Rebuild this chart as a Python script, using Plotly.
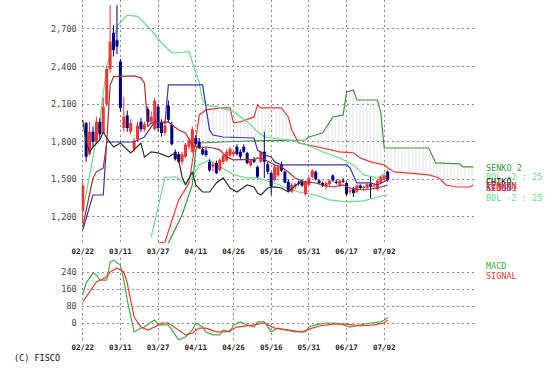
import plotly.graph_objects as go

# ---------------- data ----------------
# trading-day index 0 = 02/22 ; 89 = last session ; cloud runs 25 sessions ahead
TICK_IDX = [0, 11, 22, 33, 44, 55, 66, 77, 88]
TICK_TEXT = ["02/22", "03/11", "03/27", "04/11", "04/26", "05/16", "05/31", "06/17", "07/02"]

PRICE_TICKS = [1200, 1500, 1800, 2100, 2400, 2700]
PRICE_TICK_TEXT = ["1,200", "1,500", "1,800", "2,100", "2,400", "2,700"]
MACD_TICKS = [0, 80, 160, 240]

OPEN = [1250, 1950, 1700, 1880, 1800, 1960, 1870, 2100, 2380, 2670,
        2610, 2440, 1910, 2010, 1880, 1740, 1820, 1960, 1900, 2060,
        1960, 1900, 2080, 1950, 1870, 2090, 1935, 1720, 1700, 1640,
        1680, 1760, 1720, 1830, 1800, 1740, 1730, 1640, 1600, 1630,
        1575, 1640, 1650, 1690, 1700, 1760, 1720, 1760, 1710, 1610,
        1660, 1600, 1640, 1720, 1620, 1550, 1495, 1530, 1620, 1560,
        1480, 1400, 1440, 1470, 1480, 1380, 1455, 1520, 1560, 1490,
        1470, 1440, 1460, 1530, 1480, 1450, 1490, 1470, 1400, 1420,
        1400, 1450, 1430, 1430, 1460, 1440, 1420, 1470, 1500, 1560]
HIGH = [1480, 1960, 1960, 1920, 2000, 1990, 2150, 2400, 2890, 2730,
        2890, 2460, 2160, 2050, 1980, 1830, 1960, 1990, 1960, 2080,
        2040, 2150, 2100, 1980, 1960, 2130, 1960, 1740, 1720, 1720,
        1790, 1830, 1920, 1850, 1830, 1760, 1750, 1660, 1640, 1650,
        1670, 1700, 1740, 1760, 1730, 1780, 1740, 1780, 1720, 1660,
        1680, 1610, 1730, 1880, 1640, 1560, 1610, 1610, 1640, 1570,
        1500, 1470, 1470, 1490, 1490, 1490, 1520, 1580, 1570, 1500,
        1480, 1480, 1500, 1540, 1500, 1500, 1510, 1480, 1430, 1440,
        1460, 1460, 1450, 1470, 1520, 1470, 1500, 1530, 1540, 1570]
LOW = [1150, 1640, 1690, 1760, 1790, 1820, 1860, 2080, 2350, 2480,
       2500, 2040, 1880, 1880, 1860, 1720, 1800, 1880, 1880, 1940,
       1940, 1890, 1880, 1840, 1850, 1950, 1770, 1650, 1630, 1620,
       1670, 1740, 1710, 1770, 1740, 1690, 1680, 1560, 1560, 1540,
       1560, 1620, 1640, 1680, 1680, 1690, 1660, 1710, 1620, 1600,
       1630, 1510, 1630, 1510, 1540, 1375, 1480, 1520, 1560, 1470,
       1400, 1390, 1420, 1450, 1440, 1370, 1450, 1510, 1490, 1460,
       1440, 1420, 1450, 1480, 1460, 1440, 1470, 1370, 1380, 1360,
       1390, 1420, 1410, 1420, 1350, 1420, 1410, 1460, 1490, 1480]
CLOSE = [1450, 1680, 1880, 1800, 1960, 1860, 2080, 2380, 2600, 2530,
         2560, 2070, 2000, 1910, 1950, 1810, 1930, 1900, 1940, 1960,
         2000, 2130, 1910, 1870, 1930, 1975, 1780, 1660, 1640, 1700,
         1775, 1810, 1900, 1780, 1750, 1700, 1695, 1570, 1620, 1550,
         1655, 1690, 1720, 1745, 1720, 1700, 1680, 1720, 1630, 1650,
         1640, 1520, 1720, 1640, 1560, 1440, 1600, 1600, 1570, 1475,
         1410, 1455, 1460, 1465, 1450, 1480, 1510, 1570, 1500, 1470,
         1450, 1470, 1490, 1490, 1470, 1490, 1480, 1380, 1410, 1390,
         1450, 1430, 1440, 1460, 1440, 1450, 1490, 1520, 1530, 1495]

# indicator lines : (session index, value) vertices
BB_UP_IDX = [0, 5, 7, 10, 13, 16, 20, 23, 26, 28, 31, 32, 34, 35, 36, 39, 44, 48, 51, 53, 55, 61, 66, 70, 75, 79, 82, 86, 89]
BB_UP_VAL = [1240, 1970, 2400, 2720, 2810, 2800, 2690, 2590, 2510, 2510, 2520, 2440, 2270, 2130, 2090, 2080, 2040, 1960, 1880, 1840, 1830, 1810, 1770, 1720, 1670, 1615, 1535, 1510, 1560]
BB_LO_IDX = [20, 24, 27, 30, 32, 34, 37, 41, 44, 48, 51, 55, 59, 63, 68, 72, 77, 82, 86, 89]
BB_LO_VAL = [1040, 1515, 1520, 1470, 1510, 1615, 1655, 1590, 1535, 1511, 1511, 1479, 1439, 1399, 1375, 1336, 1320, 1328, 1359, 1375]

TENKAN_IDX = [0, 3, 4, 6, 7, 8, 9, 15, 17, 18, 19, 20, 25, 27, 28, 30, 32, 34, 36, 38, 40, 42, 44, 50, 51, 53, 55, 56, 58, 60, 62, 65, 68, 70, 73, 76, 78, 82, 86, 89]
TENKAN_VAL = [1120, 1510, 1560, 1590, 1790, 2250, 2320, 2325, 2310, 2270, 1920, 1950, 1958, 1918, 1894, 1870, 1774, 1750, 1758, 1750, 1735, 1679, 1655, 1660, 1671, 1660, 1631, 1615, 1599, 1559, 1511, 1479, 1471, 1455, 1439, 1455, 1431, 1415, 1431, 1455]

KIJUN_IDX = [0, 2, 3, 6, 7, 15, 18, 19, 21, 24, 25, 35, 36, 37, 38, 41, 50, 51, 53, 55, 56, 58, 77, 78, 80, 84, 86, 89]
KIJUN_VAL = [1096, 1272, 1375, 1375, 1798, 1798, 1838, 1878, 1958, 1950, 2253, 2253, 2054, 1894, 1854, 1838, 1830, 1735, 1695, 1679, 1639, 1615, 1615, 1591, 1471, 1471, 1455, 1495]

CHIKO_IDX = [0, 1, 2, 3, 5, 6, 7, 9, 11, 13, 14, 17, 18, 20, 22, 25, 27, 28, 29, 30, 32, 33, 35, 37, 39, 41, 43, 45, 48, 50, 51, 52, 54, 56, 58, 60, 62, 64]
CHIKO_VAL = [1974, 1798, 1719, 1758, 1814, 1878, 1830, 1758, 1790, 1735, 1711, 1790, 1679, 1719, 1711, 1679, 1711, 1655, 1519, 1455, 1559, 1455, 1399, 1399, 1471, 1511, 1431, 1399, 1455, 1439, 1391, 1375, 1431, 1439, 1431, 1399, 1450, 1495]

SENKO1_IDX = [22, 24, 28, 31, 33, 34, 36, 40, 43, 44, 46, 50, 51, 52, 58, 60, 61, 63, 66, 70, 75, 79, 81, 84, 88, 89, 91, 101, 104, 106, 109, 113, 114]
SENKO1_VAL = [992, 1000, 1336, 1471, 1814, 2014, 2054, 2070, 2070, 1950, 1958, 1998, 2094, 2070, 2070, 1998, 1894, 1790, 1774, 1750, 1719, 1711, 1671, 1639, 1615, 1591, 1559, 1535, 1511, 1455, 1439, 1439, 1455]

SENKO2_IDX = [25, 29, 32, 33, 34, 48, 65, 66, 70, 71, 73, 76, 77, 79, 80, 86, 87, 88, 101, 103, 110, 111, 114]
SENKO2_VAL = [992, 1216, 1455, 1735, 1790, 1806, 1814, 1838, 1870, 1910, 1998, 2014, 2197, 2213, 2133, 2133, 2030, 1750, 1750, 1631, 1623, 1599, 1599]

MACD_IDX = [0, 1, 3, 4, 5, 7, 8, 9, 11, 12, 13, 14, 15, 17, 18, 20, 21, 22, 25, 27, 28, 30, 32, 33, 35, 36, 38, 40, 41, 43, 44, 46, 48, 50, 51, 53, 54, 55, 57, 59, 62, 65, 66, 68, 71, 74, 76, 78, 81, 84, 87, 89]
MACD_VAL = [132, 188, 235, 226, 202, 202, 287, 296, 273, 202, 108, 28, -42, -24, -19, 5, 14, -9, -9, -56, -80, -66, -33, 0, -19, -42, -56, -56, -33, -42, -9, 5, -9, -19, 5, 5, -19, -42, -24, -33, -42, -42, -19, -9, 0, 0, -9, -19, -9, 0, 5, 24]
SIGNAL_IDX = [0, 2, 4, 7, 8, 10, 12, 13, 14, 15, 17, 19, 21, 23, 25, 28, 30, 32, 34, 36, 39, 42, 45, 50, 53, 56, 60, 64, 67, 69, 73, 77, 81, 85, 88, 89]
SIGNAL_VAL = [99, 146, 193, 216, 240, 259, 240, 188, 108, 28, -19, -33, -19, 0, 0, -33, -56, -47, -24, -24, -42, -42, -19, -9, 0, -24, -33, -42, -24, -14, -5, -5, -14, -9, 0, 14]

# ---------------- styles ----------------
W, H = 552, 373
UP_C = "#ff3030"
DN_C = "#000080"
TENKAN_C = "#b03030"
KIJUN_C = "#3838a8"
SENKO1_C = "#ff3535"
SENKO2_C = "#3a9a3a"
BB_C = "#66dd88"
CHIKO_C = "#303030"
MONO = "DejaVu Sans Mono"


def px(x):
    return x / W


def py(y):
    return 1 - y / H


fig = go.Figure()

# cloud (hatched between the two spans)
fig.add_trace(go.Scatter(x=SENKO1_IDX, y=SENKO1_VAL, mode="lines",
                         line=dict(color=SENKO1_C, width=1.2), hoverinfo="skip"))
fig.add_trace(go.Scatter(x=SENKO2_IDX, y=SENKO2_VAL, mode="lines",
                         line=dict(color=SENKO2_C, width=1.2), fill="tonexty",
                         fillcolor="rgba(0,0,0,0)",
                         fillpattern=dict(shape="|", size=3.5, solidity=0.25,
                                          fgcolor="#c4c4c4", bgcolor="rgba(255,255,255,0)"),
                         hoverinfo="skip"))

# bollinger
fig.add_trace(go.Scatter(x=BB_UP_IDX, y=BB_UP_VAL, mode="lines",
                         line=dict(color=BB_C, width=1.2), hoverinfo="skip"))
fig.add_trace(go.Scatter(x=BB_LO_IDX, y=BB_LO_VAL, mode="lines",
                         line=dict(color=BB_C, width=1.2), hoverinfo="skip"))

# candles (wicks + bodies)
for up, col in ((True, UP_C), (False, DN_C)):
    wx, wy, bx, by = [], [], [], []
    for i, (o, h, l, c) in enumerate(zip(OPEN, HIGH, LOW, CLOSE)):
        if (c >= o) != up:
            continue
        wx += [i, i, None]
        wy += [l, h, None]
        lo, hi = min(o, c), max(o, c)
        if hi - lo < 8:
            hi = lo + 8
        bx += [i, i, None]
        by += [lo, hi, None]
    fig.add_trace(go.Scatter(x=wx, y=wy, mode="lines", line=dict(color=col, width=1),
                             hoverinfo="skip", connectgaps=False))
    fig.add_trace(go.Scatter(x=bx, y=by, mode="lines", line=dict(color=col, width=3),
                             hoverinfo="skip", connectgaps=False))

# ichimoku lines
fig.add_trace(go.Scatter(x=KIJUN_IDX, y=KIJUN_VAL, mode="lines",
                         line=dict(color=KIJUN_C, width=1.2), hoverinfo="skip"))
fig.add_trace(go.Scatter(x=TENKAN_IDX, y=TENKAN_VAL, mode="lines",
                         line=dict(color=TENKAN_C, width=1.2), hoverinfo="skip"))
fig.add_trace(go.Scatter(x=CHIKO_IDX, y=CHIKO_VAL, mode="lines",
                         line=dict(color=CHIKO_C, width=1.2), hoverinfo="skip"))

# MACD panel
fig.add_trace(go.Scatter(x=MACD_IDX, y=MACD_VAL, mode="lines", xaxis="x2", yaxis="y2",
                         line=dict(color="#44aa44", width=1.2), hoverinfo="skip"))
fig.add_trace(go.Scatter(x=SIGNAL_IDX, y=SIGNAL_VAL, mode="lines", xaxis="x2", yaxis="y2",
                         line=dict(color="#ff3333", width=1.2), hoverinfo="skip"))

grid = dict(showgrid=True, gridcolor="#8a8a8a", griddash="2px,3px", gridwidth=1,
            zeroline=False, showline=False, ticks="")
xdom = [px(73), px(474)]
xr = [-0.3, 114.6]
date_font = dict(family=MONO, size=7.5, color="#222222", weight="bold")
num_font = dict(family=MONO, size=8.5, color="#444444")

fig.update_layout(
    width=W, height=H, margin=dict(l=0, r=0, t=0, b=0),
    paper_bgcolor="white", plot_bgcolor="white", showlegend=False,
    xaxis=dict(domain=xdom, range=xr, tickvals=TICK_IDX, ticktext=TICK_TEXT,
               tickfont=date_font, anchor="y", ticklabelstandoff=2, **grid),
    yaxis=dict(domain=[py(243), 1.0], range=[992, 2931], tickvals=PRICE_TICKS,
               ticktext=PRICE_TICK_TEXT, tickfont=num_font, anchor="x",
               ticklabelstandoff=4, **grid),
    xaxis2=dict(domain=xdom, range=xr, tickvals=TICK_IDX, ticktext=TICK_TEXT,
                tickfont=date_font, anchor="y2", ticklabelstandoff=1, **grid),
    yaxis2=dict(domain=[py(340), py(258)], range=[-80, 306], tickvals=MACD_TICKS,
                tickfont=num_font, anchor="x2", ticklabelstandoff=4, **grid),
)

labels = [
    ("SENKO 2", SENKO2_C, 168),
    ("BOL +2 : 25", BB_C, 177),
    ("CHIKO", "#111111", 182),
    ("TENKAN", TENKAN_C, 186),
    ("KIJUN", KIJUN_C, 187.5),
    ("SENKO1", SENKO1_C, 188),
    ("BOL -2 : 25", BB_C, 198),
    ("MACD", "#44aa44", 266),
    ("SIGNAL", "#ff3333", 276),
]
for txt, col, yy in labels:
    fig.add_annotation(text=txt, x=px(483), y=py(yy), xref="paper", yref="paper",
                       xanchor="left", yanchor="middle", showarrow=False,
                       font=dict(family=MONO, size=8.5, color=col))
fig.add_annotation(text="(C) FISCO", x=px(2), y=py(358), xref="paper", yref="paper",
                   xanchor="left", yanchor="middle", showarrow=False,
                   font=dict(family=MONO, size=8.5, color="#111111"))

fig.write_html("out.html")
